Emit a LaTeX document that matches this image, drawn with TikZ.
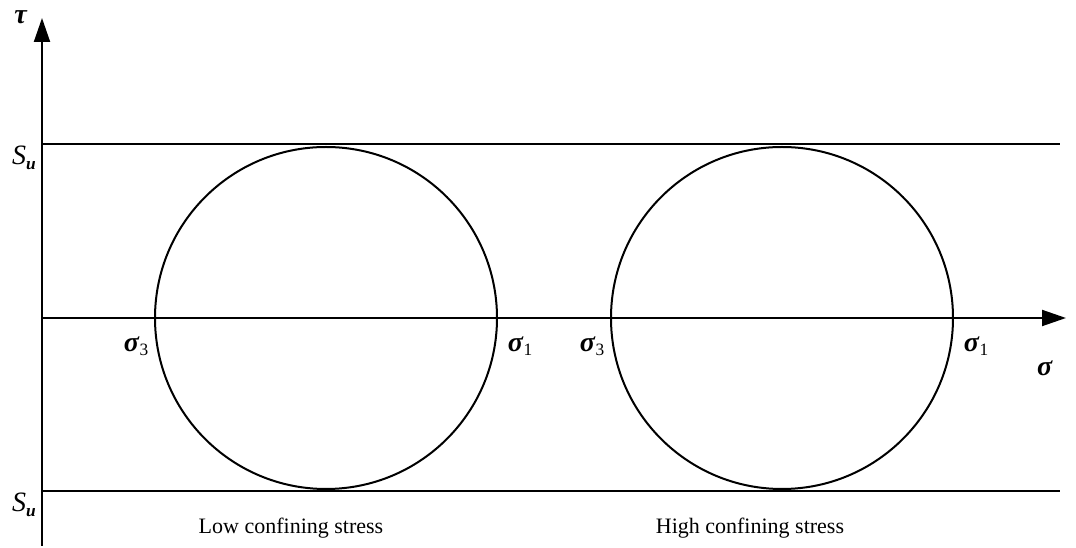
\documentclass[tikz,border=0pt]{standalone}
\usepackage{amsmath}
\usepackage{fontspec}
\setmainfont{Liberation Serif}
\usetikzlibrary{arrows.meta}
\newcommand\grk[1]{\textit{\textbf{#1}}}
\newcommand\sub[1]{\raisebox{-0.35ex}{\fontsize{13}{15}\selectfont #1}}

\begin{document}
\begin{tikzpicture}[x=0.75pt, y=-0.75pt, line width=1.5pt,
    >={Triangle[length=18pt, width=12pt]},
    lbl/.style={font=\fontsize{21}{24}\selectfont, inner sep=1pt},
    captxt/.style={font=\fontsize{16.5}{19}\selectfont}]
        \useasboundingbox (0,0) rectangle (1076,548);

        % 参数
        \def\ytop{144}     % S_u 上
        \def\ybot{491}     % S_u 下
        \def\yax{318}      % sigma 轴
        \def\rad{171}      % 半径
        \def\cone{326}     % 圆心 1
        \def\ctwo{782}     % 圆心 2

        % 关键点
        \coordinate (O) at (42,\yax);
        \coordinate (Tb) at (42,546);
        \coordinate (Tt) at (42,18);
        \coordinate (Sr) at (1066,\yax);
        \coordinate (Ul) at (42,\ytop);
        \coordinate (Ur) at (1060,\ytop);
        \coordinate (Ll) at (42,\ybot);
        \coordinate (Lr) at (1060,\ybot);
        \coordinate (C1) at (\cone,\yax);
        \coordinate (C2) at (\ctwo,\yax);

        % 坐标轴
        \draw[->] (Tb) -- (Tt);
        \draw[->] (O) -- (Sr);
        \node[lbl] (tau) at (21,17) {\grk{τ}};
        \node[lbl] (sig) at (1045,368) {\grk{σ}};

        % 强度线
        \draw (Ul) -- (Ur);
        \draw (Ll) -- (Lr);
        \node[lbl] (Sutop) at (24,158) {\textit{S}\sub{\grk{u}}};
        \node[lbl] (Subot) at (24,505) {\textit{S}\sub{\grk{u}}};

        % Mohr 圆
        \draw (C1) circle (\rad);
        \draw (C2) circle (\rad);

        % 主应力标注
        \node[lbl] (s3a) at (\cone-\rad-19,346) {\grk{σ}\sub{3}};
        \node[lbl] (s1a) at (\cone+\rad+23,346) {\grk{σ}\sub{1}};
        \node[lbl] (s3b) at (\ctwo-\rad-19,346) {\grk{σ}\sub{3}};
        \node[lbl] (s1b) at (\ctwo+\rad+23,346) {\grk{σ}\sub{1}};

        % 说明文字
        \node[captxt] (low) at (291,528) {Low confining stress};
        \node[captxt] (high) at (750,528) {High confining stress};

    \end{tikzpicture}
\end{document}
